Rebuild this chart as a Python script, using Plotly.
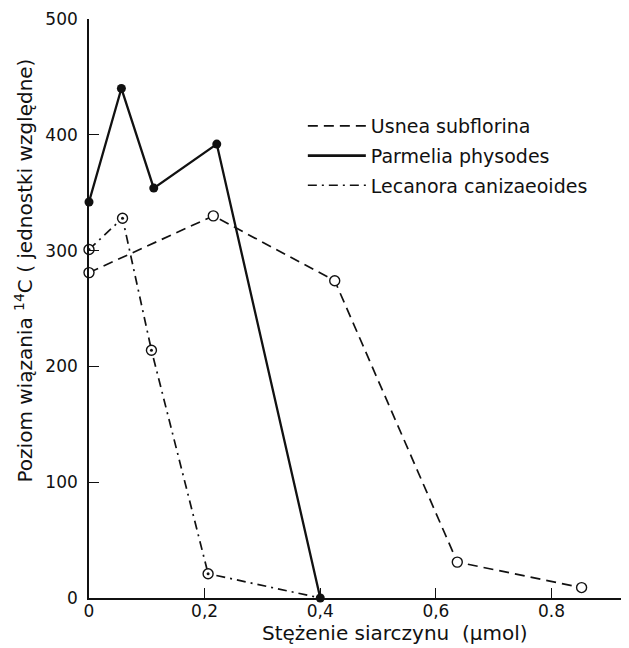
import plotly.graph_objects as go

# Data
parmelia_x = [0.0, 0.056, 0.112, 0.221, 0.40]
parmelia_y = [342, 440, 354, 392, 0]

usnea_x = [0.0, 0.215, 0.425, 0.637, 0.852]
usnea_y = [281, 330, 274, 31, 9]

lecanora_x = [0.0, 0.058, 0.108, 0.206, 0.40]
lecanora_y = [301, 328, 214, 21, 0]

x_tickvals = [0, 0.2, 0.4, 0.6, 0.8]
x_ticktext = ["0", "0,2", "0,4", "0,6", "0.8"]
y_tickvals = [0, 100, 200, 300, 400, 500]

legend_names = ["Usnea subflorina", "Parmelia physodes", "Lecanora canizaeoides"]
x_title = "Stężenie siarczynu  (µmol)"
y_title = "Poziom wiązania <sup>14</sup>C ( jednostki względne)"

FONT = "DejaVu Sans"
INK = "#111111"
DASH = "10px,6px"
DASHDOT = "9px,5px,2px,5px"

fig = go.Figure()

# Data traces (no legend)
fig.add_trace(go.Scatter(
    x=usnea_x, y=usnea_y, mode="lines+markers", showlegend=False,
    line=dict(color=INK, width=1.7, dash=DASH),
    marker=dict(symbol="circle", size=10, color="white", line=dict(color=INK, width=1.4)),
    cliponaxis=False))
fig.add_trace(go.Scatter(
    x=lecanora_x, y=lecanora_y, mode="lines", showlegend=False,
    line=dict(color=INK, width=1.7, dash=DASHDOT), cliponaxis=False))
fig.add_trace(go.Scatter(
    x=lecanora_x[:-1], y=lecanora_y[:-1], mode="markers", showlegend=False,
    marker=dict(symbol="circle", size=10, color="white", line=dict(color=INK, width=1.4)),
    cliponaxis=False))
fig.add_trace(go.Scatter(
    x=lecanora_x[:-1], y=lecanora_y[:-1], mode="markers", showlegend=False,
    marker=dict(symbol="circle", size=3, color=INK),
    cliponaxis=False))
fig.add_trace(go.Scatter(
    x=parmelia_x, y=parmelia_y, mode="lines+markers", showlegend=False,
    line=dict(color=INK, width=2.3),
    marker=dict(symbol="circle", size=9, color=INK),
    cliponaxis=False))

# Legend-only line samples
legend_styles = [
    dict(color=INK, width=1.7, dash=DASH),
    dict(color=INK, width=2.8),
    dict(color=INK, width=1.7, dash=DASHDOT),
]
for i, (name, ls) in enumerate(zip(legend_names, legend_styles)):
    fig.add_trace(go.Scatter(x=[None], y=[None], mode="lines", name=name,
                             line=ls, legendgroup=f"g{i}"))

fig.update_layout(
    width=629, height=648,
    margin=dict(l=81, r=8, t=11, b=58),
    paper_bgcolor="white", plot_bgcolor="white",
    font=dict(family=FONT, color=INK, size=17),
    legend=dict(x=0.396, y=0.848, xanchor="left", yanchor="top",
                bgcolor="rgba(0,0,0,0)", font=dict(size=19, family=FONT),
                itemwidth=58, tracegroupgap=2, traceorder="grouped"),
    annotations=[
        dict(text=y_title, xref="paper", yref="paper", x=-0.12, y=0.566,
             xanchor="center", yanchor="middle", textangle=-90, showarrow=False,
             font=dict(size=20, family=FONT, color=INK)),
        dict(text=x_title, xref="paper", yref="paper", x=0.567, y=-0.061,
             xanchor="center", yanchor="middle", showarrow=False,
             font=dict(size=20, family=FONT, color=INK)),
    ],
)

fig.update_xaxes(
    range=[0, 0.934], showgrid=False, zeroline=False, automargin=False,
    showline=True, linecolor=INK, linewidth=1.6,
    ticks="inside", ticklen=10, tickwidth=1.3, tickcolor=INK,
    tickvals=x_tickvals, ticktext=x_ticktext,
    tickfont=dict(size=17, family=FONT),
    ticklabelstandoff=-3,
)
fig.update_yaxes(
    range=[0, 500], showgrid=False, zeroline=False, automargin=False,
    showline=True, linecolor=INK, linewidth=1.6,
    ticks="inside", ticklen=10, tickwidth=1.3, tickcolor=INK,
    tickvals=y_tickvals, tickfont=dict(size=17, family=FONT),
    ticklabelstandoff=6,
)

fig.write_html("out.html")
